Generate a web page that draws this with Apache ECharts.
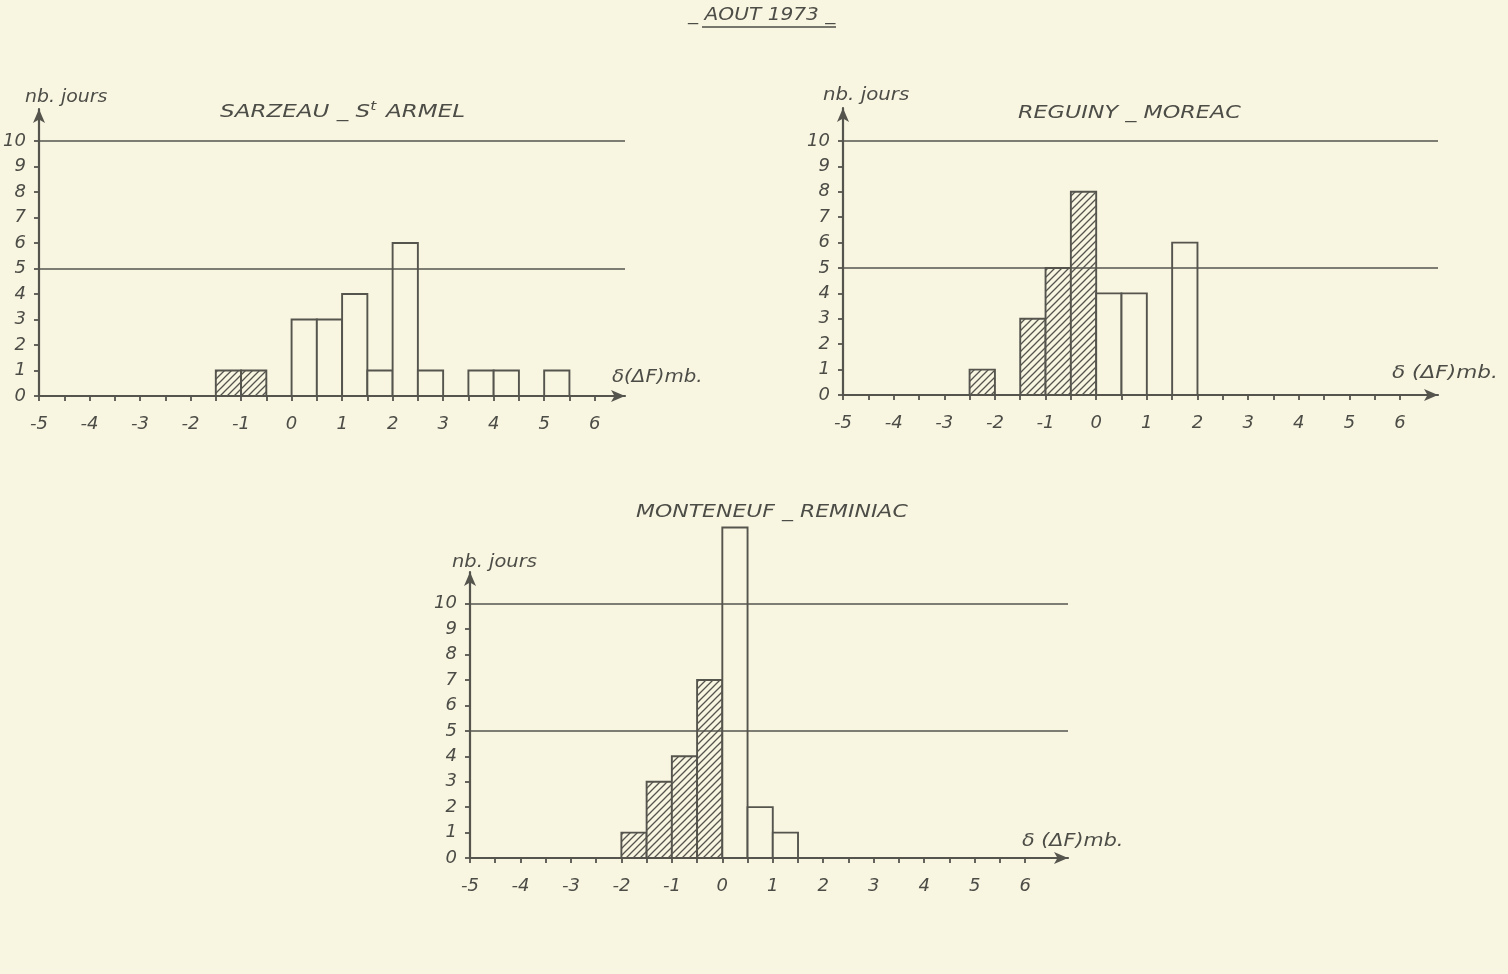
<!DOCTYPE html>
<html>
<head>
<meta charset="utf-8">
<script src="https://cdn.jsdelivr.net/npm/echarts@6.0.0/dist/echarts.min.js"></script>
<style>
  html, body { margin: 0; padding: 0; background: #f8f5e1; }
  #chart { width: 1508px; height: 974px; }
</style>
</head>
<body>
<div id="chart"></div>
<script>
// ---------------- data ----------------
const figureTitle = '_ AOUT 1973 _';
const stationNames = ['SARZEAU _ S{sup|t} ARMEL', 'REGUINY _ MOREAC', 'MONTENEUF _ REMINIAC'];
const yAxisTitle = 'nb. jours';
const xAxisTitles = ['δ(ΔF)mb.', 'δ (ΔF)mb.', 'δ (ΔF)mb.'];

const xTickLabels = [-5, -4, -3, -2, -1, 0, 1, 2, 3, 4, 5, 6];
const xTickMarks = [-5, -4.5, -4, -3.5, -3, -2.5, -2, -1.5, -1, -0.5, 0, 0.5, 1, 1.5, 2, 2.5, 3, 3.5, 4, 4.5, 5, 5.5, 6];
const yTickLabels = [0, 1, 2, 3, 4, 5, 6, 7, 8, 9, 10];
const refLevels = [5, 10];
const binWidth = 0.5;

// bins: lower edge of each 0.5 mb class, counts = number of days
const sarzeauHatchedBins = [-1.5, -1.0];
const sarzeauHatchedCounts = [1, 1];
const sarzeauOpenBins = [0, 0.5, 1.0, 1.5, 2.0, 2.5, 3.5, 4.0, 5.0];
const sarzeauOpenCounts = [3, 3, 4, 1, 6, 1, 1, 1, 1];

const reguinyHatchedBins = [-2.5, -1.5, -1.0, -0.5];
const reguinyHatchedCounts = [1, 3, 5, 8];
const reguinyOpenBins = [0, 0.5, 1.5];
const reguinyOpenCounts = [4, 4, 6];

const monteneufHatchedBins = [-2.0, -1.5, -1.0, -0.5];
const monteneufHatchedCounts = [1, 3, 4, 7];
const monteneufOpenBins = [0, 0.5, 1.0];
const monteneufOpenCounts = [13, 2, 1];

// ---------------- style ----------------
const INK = '#55554e';
const TEXT = '#4d4d47';
const BG = '#f8f5e1';
const FONT = '"DejaVu Sans", sans-serif';

function makeHatch() {
  const s = 7;
  const c = document.createElement('canvas');
  c.width = s; c.height = s;
  const g = c.getContext('2d');
  g.fillStyle = BG; g.fillRect(0, 0, s, s);
  g.strokeStyle = INK; g.lineWidth = 1.3;
  g.beginPath();
  g.moveTo(0, s); g.lineTo(s, 0);
  g.moveTo(-s, s); g.lineTo(s, -s);
  g.moveTo(0, 2 * s); g.lineTo(2 * s, 0);
  g.stroke();
  return c;
}
const hatch = makeHatch();

const zip = (a, b) => a.map((v, i) => [v, b[i]]);
const panels = [
  { hatched: zip(sarzeauHatchedBins, sarzeauHatchedCounts), open: zip(sarzeauOpenBins, sarzeauOpenCounts),
    grid: { left: 39, top: 109, width: 586, height: 287 }, xMax: 6.6, yMax: 11.25 },
  { hatched: zip(reguinyHatchedBins, reguinyHatchedCounts), open: zip(reguinyOpenBins, reguinyOpenCounts),
    grid: { left: 843, top: 108, width: 595, height: 287 }, xMax: 6.75, yMax: 11.3 },
  { hatched: zip(monteneufHatchedBins, monteneufHatchedCounts), open: zip(monteneufOpenBins, monteneufOpenCounts),
    grid: { left: 470, top: 572, width: 598, height: 286 }, xMax: 6.85, yMax: 11.25 }
];

function renderer(fill) {
  return function (params, api) {
    const x0 = api.value(0), h = api.value(1);
    const p0 = api.coord([x0, h]);
    const p1 = api.coord([x0 + binWidth, 0]);
    return {
      type: 'rect',
      shape: { x: p0[0], y: p0[1], width: p1[0] - p0[0], height: p1[1] - p0[1] },
      style: { fill: fill, stroke: INK, lineWidth: 1.9 }
    };
  };
}

const grids = [], xAxes = [], yAxes = [], series = [];
panels.forEach((p, i) => {
  grids.push(Object.assign({ outerBoundsMode: 'none', containLabel: false }, p.grid));
  xAxes.push({
    type: 'value', gridIndex: i, min: -5, max: p.xMax,
    axisLine: { onZero: false, lineStyle: { color: INK, width: 2.2 }, symbol: ['none', 'arrow'], symbolSize: [9, 14] },
    axisTick: { show: true, length: 5, customValues: xTickMarks, lineStyle: { color: INK, width: 1.8 } },
    axisLabel: { customValues: xTickLabels, margin: 19, color: TEXT, fontSize: 18, fontStyle: 'italic', fontFamily: FONT },
    splitLine: { show: false }
  });
  yAxes.push({
    type: 'value', gridIndex: i, min: 0, max: p.yMax,
    axisLine: { show: true, onZero: false, lineStyle: { color: INK, width: 2.2 }, symbol: ['none', 'arrow'], symbolSize: [9, 14] },
    axisTick: { show: true, length: 5, customValues: yTickLabels, lineStyle: { color: INK, width: 1.8 } },
    axisLabel: { customValues: yTickLabels, margin: 13, color: TEXT, fontSize: 18, fontStyle: 'italic', fontFamily: FONT },
    splitLine: { show: false }
  });
  series.push({
    type: 'custom', xAxisIndex: i, yAxisIndex: i, z: 2,
    data: p.hatched, encode: { x: 0, y: 1 },
    renderItem: renderer({ image: hatch, repeat: 'repeat' }), silent: true
  });
  series.push({
    type: 'custom', xAxisIndex: i, yAxisIndex: i, z: 2,
    data: p.open, encode: { x: 0, y: 1 },
    renderItem: renderer(BG), silent: true,
    markLine: {
      silent: true, symbol: 'none', z: 5,
      label: { show: false },
      lineStyle: { color: INK, width: 1.6, type: 'solid' },
      data: refLevels.map(v => ({ yAxis: v }))
    }
  });
});

function txt(text, x, y, size, sx) {
  return {
    type: 'text', x: x, y: y, scaleX: sx, z: 10, silent: true,
    style: {
      text: text, fill: TEXT, fontSize: size, fontStyle: 'italic', fontFamily: FONT,
      verticalAlign: 'middle', align: 'left',
      rich: { sup: { fontSize: 12, fill: TEXT, fontStyle: 'italic', fontFamily: FONT, verticalAlign: 'top', padding: [0, 2, 10, 0] } }
    }
  };
}

const texts = [
  txt(figureTitle, 688, 15, 18, 1.12),
  txt(stationNames[0], 220, 112, 18, 1.28),
  txt(stationNames[1], 1018, 113, 18, 1.24),
  txt(stationNames[2], 636, 512, 18, 1.22),
  txt(yAxisTitle, 25, 97, 18, 1.05),
  txt(yAxisTitle, 823, 95, 18, 1.1),
  txt(yAxisTitle, 452, 562, 18, 1.08),
  txt(xAxisTitles[0], 612, 377, 18, 1.1),
  txt(xAxisTitles[1], 1392, 373, 18, 1.2),
  txt(xAxisTitles[2], 1022, 841, 18, 1.15),
  { type: 'line', z: 10, silent: true, shape: { x1: 702, y1: 27, x2: 836, y2: 27 }, style: { stroke: TEXT, lineWidth: 1.6 } }
];

const chart = echarts.init(document.getElementById('chart'), null, { renderer: 'canvas' });
chart.setOption({
  backgroundColor: BG,
  animation: false,
  grid: grids,
  xAxis: xAxes,
  yAxis: yAxes,
  series: series,
  graphic: texts
});
</script>
</body>
</html>
